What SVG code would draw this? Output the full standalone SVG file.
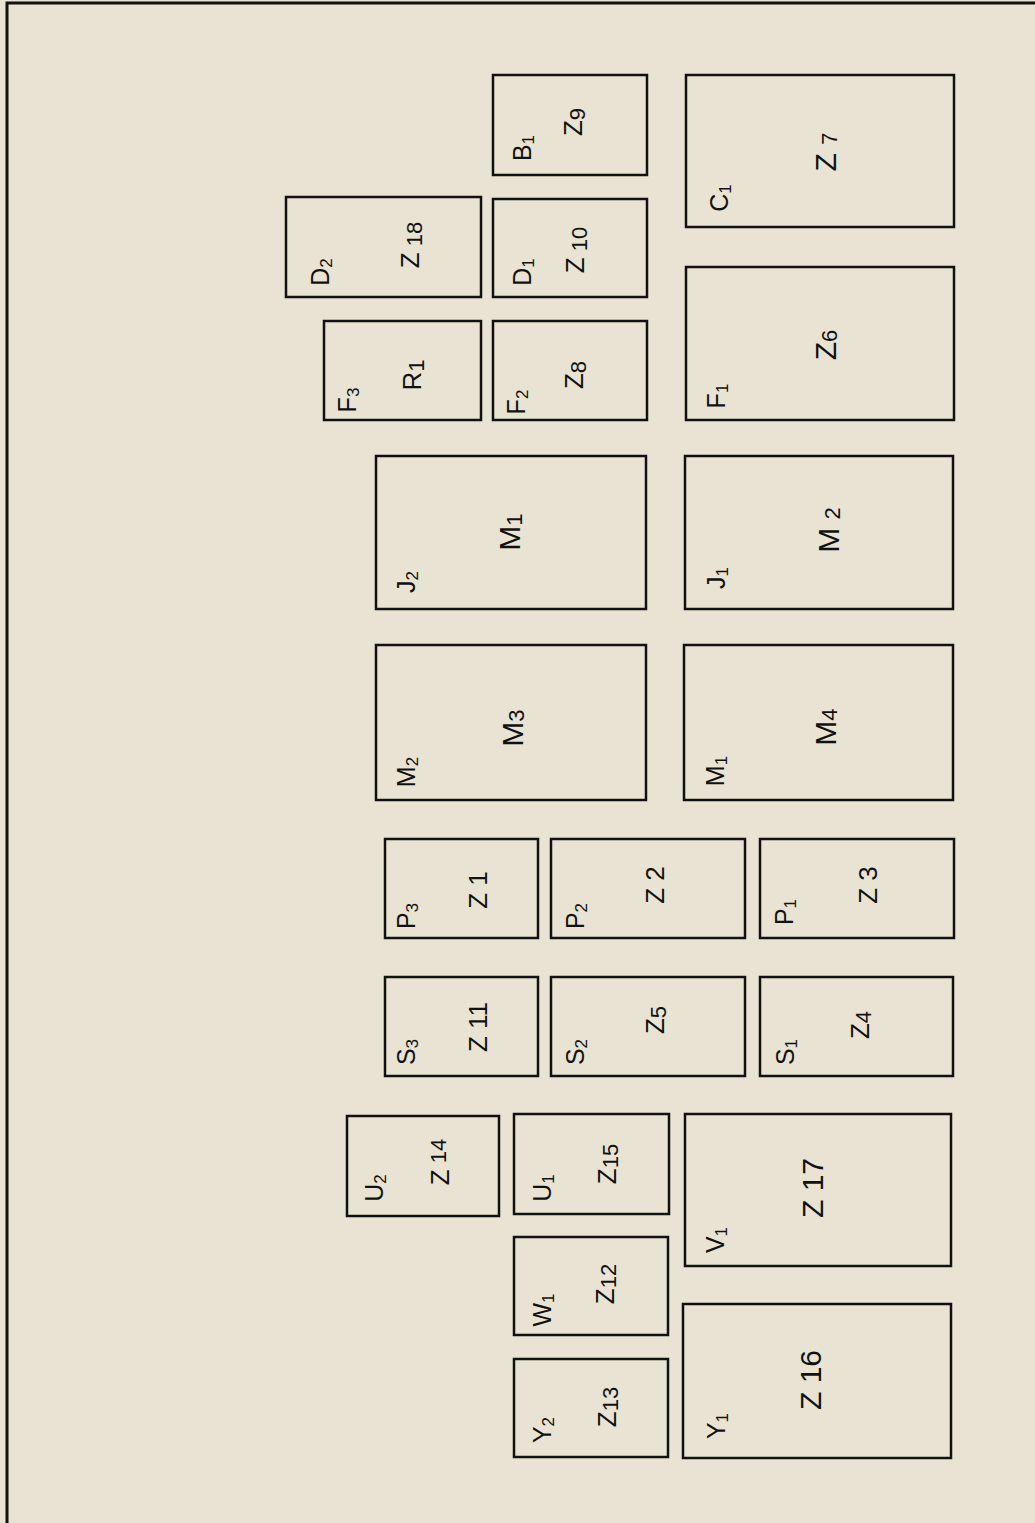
<svg xmlns="http://www.w3.org/2000/svg" width="1035" height="1523" viewBox="0 0 1035 1523">
<style>
.box{fill:none;stroke:#111;stroke-width:2.5}
.frame{fill:none;stroke:#111;stroke-width:3}
text{font-family:"Liberation Sans","DejaVu Sans",sans-serif;fill:#111;text-anchor:middle;dominant-baseline:central}
.main{font-size:30px}
.mains{font-size:26px}
.corner{font-size:25px}
.sub{font-size:17px}
.msub{font-size:22px}
</style>
<rect x="0" y="0" width="1035" height="1523" fill="#e8e3d3"/>
<path class="frame" d="M7,1523 V3 H1035"/>

<g id="n-z9"><rect class="box" x="493" y="75" width="154" height="100"/>
<text class="corner" transform="translate(522,148) rotate(-90)">B<tspan class="sub" dy="6">1</tspan></text>
<text class="mains" transform="translate(573,122) rotate(-90)">Z<tspan class="msub" dy="4">9</tspan></text></g>

<g id="n-z18"><rect class="box" x="286" y="197" width="195" height="100"/>
<text class="corner" transform="translate(320,272) rotate(-90)">D<tspan class="sub" dy="6">2</tspan></text>
<text class="mains" transform="translate(410,245) rotate(-90)">Z<tspan class="msub" dy="4"> 18</tspan></text></g>

<g id="n-z10"><rect class="box" x="493" y="199" width="154" height="98"/>
<text class="corner" transform="translate(522,272) rotate(-90)">D<tspan class="sub" dy="6">1</tspan></text>
<text class="mains" transform="translate(575,250) rotate(-90)">Z<tspan class="msub" dy="4"> 10</tspan></text></g>

<g id="n-r1"><rect class="box" x="324" y="321" width="157" height="99"/>
<text class="corner" transform="translate(347,400) rotate(-90)">F<tspan class="sub" dy="6">3</tspan></text>
<text class="mains" transform="translate(412,375) rotate(-90)">R<tspan class="msub" dy="4">1</tspan></text></g>

<g id="n-z8"><rect class="box" x="493" y="321" width="154" height="99"/>
<text class="corner" transform="translate(516,402) rotate(-90)">F<tspan class="sub" dy="6">2</tspan></text>
<text class="mains" transform="translate(574,375) rotate(-90)">Z<tspan class="msub" dy="4">8</tspan></text></g>

<g id="n-z7"><rect class="box" x="686" y="75" width="268" height="152"/>
<text class="corner" transform="translate(719,198) rotate(-90)">C<tspan class="sub" dy="6">1</tspan></text>
<text class="main" transform="translate(825,152) rotate(-90)">Z <tspan class="msub" dy="4">7</tspan></text></g>

<g id="n-z6"><rect class="box" x="686" y="267" width="268" height="153"/>
<text class="corner" transform="translate(716,396) rotate(-90)">F<tspan class="sub" dy="6">1</tspan></text>
<text class="main" transform="translate(825,345) rotate(-90)">Z<tspan class="msub" dy="4">6</tspan></text></g>

<g id="n-m1"><rect class="box" x="376" y="456" width="270" height="153"/>
<text class="corner" transform="translate(406,582) rotate(-90)">J<tspan class="sub" dy="6">2</tspan></text>
<text class="main" transform="translate(509,532) rotate(-90)">M<tspan class="msub" dy="5">1</tspan></text></g>

<g id="n-m2"><rect class="box" x="685" y="456" width="268" height="153"/>
<text class="corner" transform="translate(716,578) rotate(-90)">J<tspan class="sub" dy="6">1</tspan></text>
<text class="main" transform="translate(828,530) rotate(-90)">M <tspan class="msub" dy="4">2</tspan></text></g>

<g id="n-m3"><rect class="box" x="376" y="645" width="270" height="155"/>
<text class="corner" transform="translate(406,772) rotate(-90)">M<tspan class="sub" dy="6">2</tspan></text>
<text class="main" transform="translate(512,728) rotate(-90)">M<tspan class="msub" dy="4">3</tspan></text></g>

<g id="n-m4"><rect class="box" x="684" y="645" width="269" height="155"/>
<text class="corner" transform="translate(715,771) rotate(-90)">M<tspan class="sub" dy="6">1</tspan></text>
<text class="main" transform="translate(825,727) rotate(-90)">M<tspan class="msub" dy="4">4</tspan></text></g>

<g id="n-z1"><rect class="box" x="385" y="839" width="153" height="99"/>
<text class="corner" transform="translate(406,916) rotate(-90)">P<tspan class="sub" dy="6">3</tspan></text>
<text class="mains" transform="translate(478,890) rotate(-90)">Z 1</text></g>

<g id="n-z2"><rect class="box" x="551" y="839" width="194" height="99"/>
<text class="corner" transform="translate(575,916) rotate(-90)">P<tspan class="sub" dy="6">2</tspan></text>
<text class="mains" transform="translate(655,885) rotate(-90)">Z 2</text></g>

<g id="n-z3"><rect class="box" x="760" y="839" width="194" height="99"/>
<text class="corner" transform="translate(784,912) rotate(-90)">P<tspan class="sub" dy="6">1</tspan></text>
<text class="mains" transform="translate(868,885) rotate(-90)">Z 3</text></g>

<g id="n-z11"><rect class="box" x="385" y="977" width="153" height="99"/>
<text class="corner" transform="translate(406,1052) rotate(-90)">S<tspan class="sub" dy="6">3</tspan></text>
<text class="mains" transform="translate(478,1027) rotate(-90)">Z 11</text></g>

<g id="n-z5"><rect class="box" x="551" y="977" width="194" height="99"/>
<text class="corner" transform="translate(575,1052) rotate(-90)">S<tspan class="sub" dy="6">2</tspan></text>
<text class="mains" transform="translate(655,1020) rotate(-90)">Z<tspan class="msub" dy="3">5</tspan></text></g>

<g id="n-z4"><rect class="box" x="760" y="977" width="193" height="99"/>
<text class="corner" transform="translate(785,1052) rotate(-90)">S<tspan class="sub" dy="6">1</tspan></text>
<text class="mains" transform="translate(860,1025) rotate(-90)">Z<tspan class="msub" dy="3">4</tspan></text></g>

<g id="n-z14"><rect class="box" x="347" y="1116" width="152" height="100"/>
<text class="corner" transform="translate(374,1188) rotate(-90)">U<tspan class="sub" dy="6">2</tspan></text>
<text class="mains" transform="translate(440,1162) rotate(-90)">Z<tspan class="msub" dy="-2"> 14</tspan></text></g>

<g id="n-z15"><rect class="box" x="514" y="1114" width="155" height="100"/>
<text class="corner" transform="translate(542,1188) rotate(-90)">U<tspan class="sub" dy="6">1</tspan></text>
<text class="mains" transform="translate(607,1164) rotate(-90)">Z<tspan class="msub" dy="3">15</tspan></text></g>

<g id="n-z17"><rect class="box" x="685" y="1114" width="266" height="152"/>
<text class="corner" transform="translate(715,1240) rotate(-90)">V<tspan class="sub" dy="6">1</tspan></text>
<text class="main" transform="translate(812,1188) rotate(-90)">Z 17</text></g>

<g id="n-z12"><rect class="box" x="514" y="1237" width="154" height="98"/>
<text class="corner" transform="translate(542,1310) rotate(-90)">W<tspan class="sub" dy="6">1</tspan></text>
<text class="mains" transform="translate(605,1284) rotate(-90)">Z<tspan class="msub" dy="3">12</tspan></text></g>

<g id="n-z13"><rect class="box" x="514" y="1359" width="154" height="98"/>
<text class="corner" transform="translate(542,1430) rotate(-90)">Y<tspan class="sub" dy="6">2</tspan></text>
<text class="mains" transform="translate(607,1407) rotate(-90)">Z<tspan class="msub" dy="3">13</tspan></text></g>

<g id="n-z16"><rect class="box" x="683" y="1304" width="268" height="154"/>
<text class="corner" transform="translate(716,1426) rotate(-90)">Y<tspan class="sub" dy="6">1</tspan></text>
<text class="main" transform="translate(810,1380) rotate(-90)">Z 16</text></g>

<g id="connectors"></g>
</svg>
